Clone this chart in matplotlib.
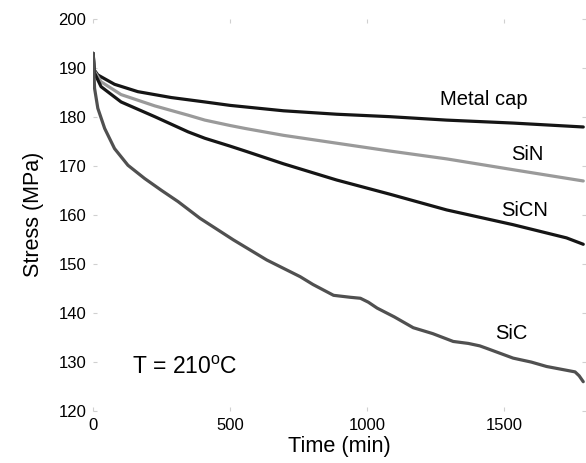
"""
Stress relaxation at 210 C for different cap layers
"""

import matplotlib

matplotlib.use("Agg")

import matplotlib.pyplot as plt

plt.rcParams["font.family"] = ["Liberation Sans", "DejaVu Sans"]

metal_t = [0, 4, 17, 78, 163, 285, 408, 500, 695, 889, 1084, 1291, 1533, 1790]
metal_s = [192.9, 189.5, 188.5, 186.6, 185.1, 183.9, 183.0, 182.3, 181.2,
           180.5, 180.0, 179.3, 178.7, 177.9]

sin_t = [0, 4, 29, 102, 225, 347, 408, 500, 555, 695, 889, 1084, 1291,
         1533, 1790]
sin_s = [192.9, 189.3, 187.1, 184.5, 182.2, 180.3, 179.3, 178.2, 177.6,
         176.2, 174.6, 173.0, 171.4, 169.2, 166.9]

sicn_t = [0, 4, 29, 102, 225, 347, 408, 500, 555, 695, 889, 1084, 1291,
          1533, 1729, 1790]
sicn_s = [192.9, 189.0, 186.1, 183.0, 180.0, 176.9, 175.6, 174.0, 173.0,
          170.4, 167.1, 164.2, 161.0, 158.0, 155.3, 154.0]

sic_t = [0, 5, 17, 42, 78, 127, 188, 249, 310, 390, 512, 634, 756, 803,
         878, 939, 976, 1005, 1037, 1100, 1169, 1240, 1315, 1370, 1412,
         1437, 1534, 1600, 1656, 1741, 1760, 1775, 1790]
sic_s = [192.9, 185.8, 181.7, 177.6, 173.5, 170.1, 167.4, 165.0, 162.7,
         159.3, 154.9, 150.8, 147.4, 145.8, 143.6, 143.2, 143.0, 142.2,
         141.0, 139.2, 137.0, 135.8, 134.2, 133.8, 133.3, 132.8, 130.8,
         130.0, 129.1, 128.2, 128.0, 127.2, 126.0]

series_labels = ["Metal cap", "SiN", "SiCN", "SiC"]
label_pos = [(1425, 183.4), (1586, 172.2), (1575, 160.8), (1527, 135.9)]

x_ticks = [0, 500, 1000, 1500]
y_ticks = [120, 130, 140, 150, 160, 170, 180, 190, 200]

fig = plt.figure(figsize=(5.86, 4.63), dpi=100)
ax = fig.add_axes([0.159, 0.112, 0.841, 0.848])

style = dict(lw=2.3, solid_joinstyle="round", solid_capstyle="round")
ax.plot(metal_t, metal_s, color="#151515", **style)
ax.plot(sin_t, sin_s, color="#9a9a9a", **style)
ax.plot(sicn_t, sicn_s, color="#151515", **style)
ax.plot(sic_t, sic_s, color="#505050", **style)

for text, (tx, sy) in zip(series_labels, label_pos):
    ax.text(tx, sy, text, fontsize=14.5, ha="center", va="center")

ax.text(141, 128.9, "T = 210$^{\\mathregular{o}}$C", fontsize=16.5,
        ha="left", va="center")

ax.set_xlim(0, 1800)
ax.set_ylim(120, 200)
ax.set_xticks(x_ticks)
ax.set_yticks(y_ticks)

for side in ax.spines.values():
    side.set_visible(False)

ax.tick_params(direction="in", length=3, color="#d0d0d0", labelsize=12,
               top=True, right=True, pad=5)

ax.set_xlabel("Time (min)", fontsize=15.7, labelpad=2)
ax.set_ylabel("Stress (MPa)", fontsize=15.5, labelpad=10)

plt.savefig("out.png", dpi=100)

plt.close()
